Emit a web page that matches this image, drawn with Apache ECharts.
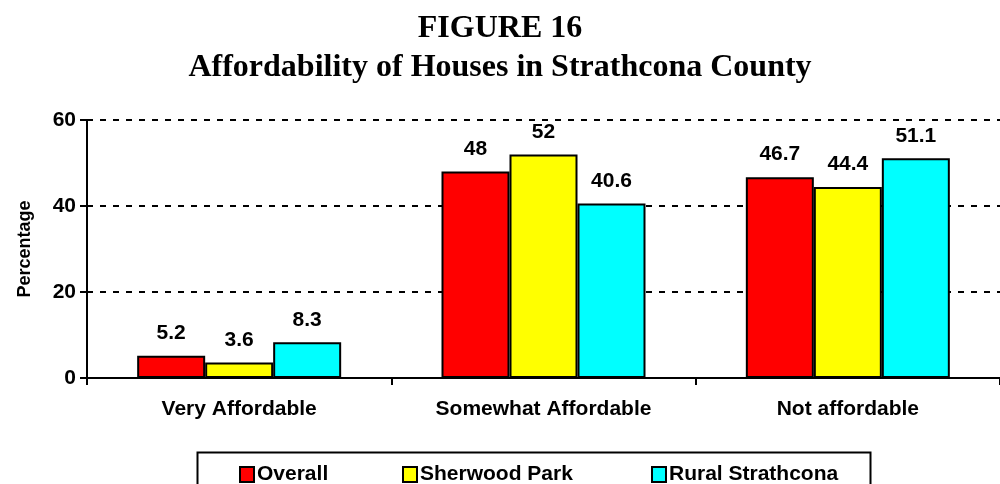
<!DOCTYPE html>
<html>
<head>
<meta charset="utf-8">
<script src="https://cdn.jsdelivr.net/npm/echarts@6/dist/echarts.min.js"></script>
<style>
  html, body { margin: 0; padding: 0; background: #fff; }
  #chart { width: 1000px; height: 484px; }
</style>
</head>
<body>
<div id="chart"></div>
<script>
// categories and values
const categories = ['Very Affordable', 'Somewhat Affordable', 'Not affordable'];
const overall = [5.2, 48, 46.7];
const sherwoodPark = [3.6, 52, 44.4];
const ruralStrathcona = [8.3, 40.6, 51.1];
const seriesNames = ['Overall', 'Sherwood Park', 'Rural Strathcona'];
const seriesColors = ['#ff0000', '#ffff00', '#00ffff'];
const legendLeft = [234, 397, 646];

const chart = echarts.init(document.getElementById('chart'), null, { renderer: 'canvas' });

const labelFont = { fontFamily: 'Liberation Sans, Arial, sans-serif', fontWeight: 'bold', color: '#000' };

function barSeries(name, data, color) {
  return {
    name: name,
    type: 'bar',
    data: data,
    barWidth: 68,
    barGap: '0%',
    itemStyle: { color: color, borderColor: '#000', borderWidth: 2 },
    label: {
      show: true,
      position: 'top',
      distance: 12,
      fontSize: 21,
      ...labelFont
    }
  };
}

// one legend per entry so the uneven spacing of the original box can be kept
const legends = seriesNames.map((name, i) => ({
  data: [name],
  left: legendLeft[i],
  top: 459,
  itemWidth: 14,
  itemHeight: 15,
  icon: 'rect',
  textStyle: { fontSize: 21, padding: [0, 0, 0, -2], ...labelFont }
}));

chart.setOption({
  animation: false,
  backgroundColor: '#fff',
  title: {
    text: 'FIGURE 16\nAffordability of Houses in Strathcona County',
    left: 'center',
    top: 4,
    textStyle: {
      fontFamily: 'Liberation Serif, Times New Roman, serif',
      fontWeight: 'bold',
      fontSize: 32,
      lineHeight: 39,
      color: '#000'
    }
  },
  // legend frame
  graphic: [{
    type: 'rect',
    left: 195,
    top: 450,
    shape: { width: 673, height: 50 },
    style: { fill: 'none', stroke: '#000', lineWidth: 2 },
    z: 100
  }],
  legend: legends,
  grid: {
    left: 87,
    top: 120,
    width: 921,
    bottom: 106,
    containLabel: false
  },
  xAxis: {
    type: 'category',
    data: categories,
    axisLine: { lineStyle: { color: '#000', width: 2 } },
    axisTick: { show: true, length: 7, lineStyle: { color: '#000', width: 2 } },
    axisLabel: { margin: 21, fontSize: 21, ...labelFont }
  },
  yAxis: {
    type: 'value',
    min: 0,
    max: 60,
    interval: 20,
    name: 'Percentage',
    nameLocation: 'middle',
    nameGap: 53,
    nameTextStyle: { fontSize: 18, ...labelFont },
    axisLine: { show: true, lineStyle: { color: '#000', width: 2 } },
    axisTick: { show: true, length: 7, lineStyle: { color: '#000', width: 2 } },
    axisLabel: { margin: 11, fontSize: 21, ...labelFont },
    splitLine: { lineStyle: { color: '#000', width: 2, type: [6, 7] } }
  },
  series: [
    barSeries(seriesNames[0], overall, seriesColors[0]),
    barSeries(seriesNames[1], sherwoodPark, seriesColors[1]),
    barSeries(seriesNames[2], ruralStrathcona, seriesColors[2])
  ]
});
</script>
</body>
</html>
